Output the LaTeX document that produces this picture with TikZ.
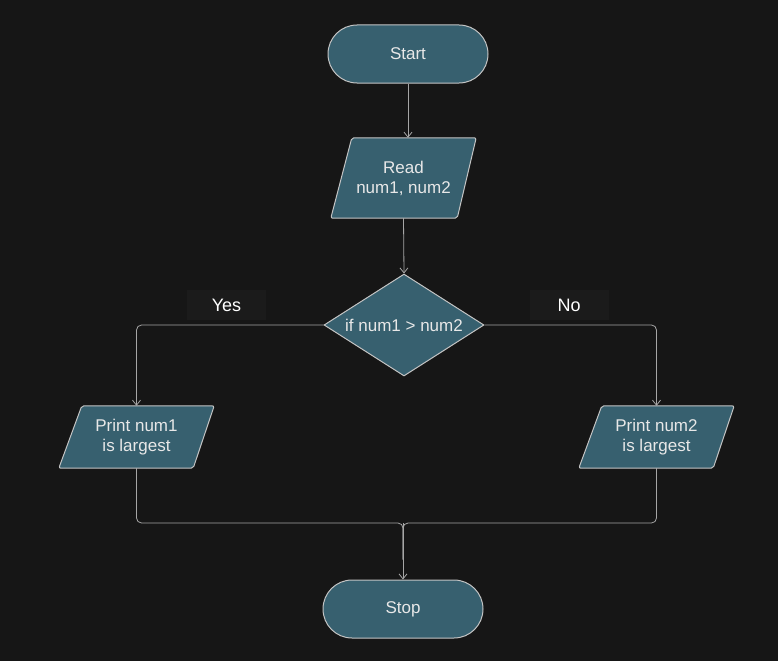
\documentclass[tikz,border=0pt]{standalone}
\usepackage{fontspec}
\setmainfont{Liberation Sans}
\usetikzlibrary{shapes.geometric,arrows.meta,backgrounds}
\definecolor{bg}{HTML}{161616}
\definecolor{lblbg}{HTML}{1B1B1B}
\definecolor{shapefill}{HTML}{37606F}
\definecolor{shapeedge}{HTML}{C4C4C4}
\definecolor{linecol}{HTML}{A6A6A6}
\definecolor{txt}{HTML}{E8E8E8}
\tikzset{
  term/.style={rectangle, rounded corners=29pt, draw=shapeedge, fill=shapefill, line width=1pt,
    minimum width=160pt, minimum height=58pt, text=txt, font=\fontsize{17}{20}\selectfont},
  iobox/.style={rectangle, inner sep=0pt, text=txt, align=center, font=\fontsize{17}{20}\selectfont},
  decide/.style={diamond, draw=shapeedge, fill=shapefill, line width=1pt, inner sep=0pt,
    aspect=1.57, minimum width=160pt, minimum height=102pt, text=txt, font=\fontsize{17}{20}\selectfont},
  para/.style={draw=shapeedge, fill=shapefill, line width=1pt, rounded corners=2pt},
  conn/.style={draw=linecol, line width=0.8pt},
  arr/.style={conn, -{Straight Barb[length=5pt,width=8pt]}},
  lbl/.style={fill=lblbg, minimum width=79pt, minimum height=30pt, inner sep=0pt, text=white,
    font=\fontsize{18}{20}\selectfont},
}
\begin{document}
\begin{tikzpicture}[x=1pt,y=-1pt]
\useasboundingbox (0,0) rectangle (778,661);

\node[term] (start) at (408,54) {Start};
\node[iobox, minimum width=145pt, minimum height=80pt] (read) at (403.5,178) {Read\\num1, num2};
\node[decide] (cond) at (404,325) {if num1 > num2};
\node[iobox, minimum width=155pt, minimum height=62pt] (p1) at (136.5,437) {Print num1\\is largest};
\node[iobox, minimum width=155pt, minimum height=62pt] (p2) at (656.5,437) {Print num2\\is largest};
\node[term] (stop) at (403,609) {Stop};

\node[lbl] (yes) at (226.5,305) {Yes};
\node[lbl] (no) at (569,305) {No};

\begin{scope}[on background layer]
  \fill[bg] (0,0) rectangle (778,661);
  \path[para] ([xshift=21pt]read.north west) -- (read.north east) -- ([xshift=-19pt]read.south east) -- (read.south west) -- cycle;
  \path[para] ([xshift=23pt]p1.north west) -- (p1.north east) -- ([xshift=-21pt]p1.south east) -- (p1.south west) -- cycle;
  \path[para] ([xshift=23pt]p2.north west) -- (p2.north east) -- ([xshift=-21pt]p2.south east) -- (p2.south west) -- cycle;
\end{scope}

\coordinate (j) at (403,523);

\draw[arr] (start.south) -- (start.south |- read.north);
\draw[arr] (read.south) -- (cond.north);
\draw[arr, rounded corners=5pt] (cond.west) -| (p1.north);
\draw[arr, rounded corners=5pt] (cond.east) -| (p2.north);
\draw[conn, rounded corners=5pt] (p1.south) |- (j) -- ([yshift=20pt]stop.north);
\draw[conn, rounded corners=5pt] (p2.south) |- (j) -- ([yshift=20pt]stop.north);
\draw[arr] (j) -- (stop.north);
\end{tikzpicture}
\end{document}
